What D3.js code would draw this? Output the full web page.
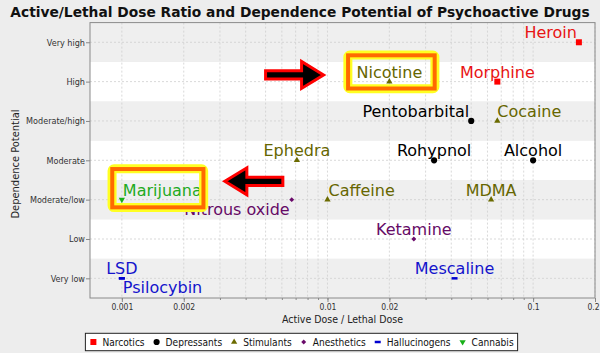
<!DOCTYPE html>
<html>
<head>
<meta charset="utf-8">
<script src="https://cdn.jsdelivr.net/npm/d3@7"></script>
<style>
  body { margin: 0; background: #ededed; }
  svg { display: block; }
</style>
</head>
<body>
<svg id="chart" width="600" height="353"></svg>
<script>
// Data
const dependenceLevels = ["Very low", "Low", "Moderate/low", "Moderate", "Moderate/high", "High", "Very high"];
const drugClasses = ["Narcotics", "Depressants", "Stimulants", "Anesthetics", "Hallucinogens", "Cannabis"];
const drugNames = ["Heroin", "Morphine", "Nicotine", "Pentobarbital", "Cocaine", "Rohypnol", "Alcohol", "Ephedra",
  "Marijuana", "Nitrous oxide", "Caffeine", "MDMA", "Ketamine", "LSD", "Psilocybin", "Mescaline"];
const drugClassOf = ["Narcotics", "Narcotics", "Stimulants", "Depressants", "Stimulants", "Depressants", "Depressants", "Stimulants",
  "Cannabis", "Anesthetics", "Stimulants", "Stimulants", "Anesthetics", "Hallucinogens", "Hallucinogens", "Hallucinogens"];
const doseRatio = [0.167, 0.067, 0.02, 0.05, 0.067, 0.033, 0.1, 0.0071,
  0.001, 0.0067, 0.01, 0.0625, 0.0263, 0.001, 0.001, 0.0415];
const dependenceOf = ["Very high", "High", "High", "Moderate/high", "Moderate/high", "Moderate", "Moderate", "Moderate",
  "Moderate/low", "Moderate/low", "Moderate/low", "Moderate/low", "Low", "Very low", "Very low", "Very low"];
const xTickValues = [0.001, 0.002, 0.01, 0.02, 0.1, 0.2];
const xTickLabels = ["0.001", "0.002", "0.01", "0.02", "0.1", "0.2"];

const drugs = drugNames.map((name, i) => ({
  name, group: drugClassOf[i], ratio: doseRatio[i], level: dependenceOf[i]
}));

// Styles
const width = 600, height = 353;
const plot = { left: 90, right: 595, top: 22.6, bottom: 298 };
const classColor = {
  Narcotics: "#ff0000", Depressants: "#000000", Stimulants: "#6b6b00",
  Anesthetics: "#6a0a6a", Hallucinogens: "#0000d0", Cannabis: "#18b018"
};
const labelColor = {
  Narcotics: "#e81414", Depressants: "#000000", Stimulants: "#666600",
  Anesthetics: "#660a66", Hallucinogens: "#1414cc", Cannabis: "#22aa22"
};
// anchor, dx, dy relative to the point
const labelPlace = {
  "Heroin": ["end", -2, -4],
  "Pentobarbital": ["end", -2, -4],
  "Nitrous oxide": ["end", -2, 15],
  "Cocaine": ["start", 0, -4],
  "Caffeine": ["start", 1, -4],
  "Marijuana": ["start", 1, -4],
  "Psilocybin": ["start", 1, 15]
};
const condensed = "'DejaVu Sans Condensed', 'DejaVu Sans', sans-serif";

const svg = d3.select("#chart");

svg.append("rect").attr("width", width).attr("height", height).attr("fill", "#ededed");

// Scales
const x = d3.scaleLog().domain([0.0007, 0.2]).range([plot.left, plot.right]);
const y = d3.scalePoint().domain(dependenceLevels).range([plot.bottom, plot.top]).padding(0.5);
const step = y.step();

// Bands
svg.append("g")
  .selectAll("rect")
  .data(dependenceLevels)
  .join("rect")
  .attr("x", plot.left)
  .attr("width", plot.right - plot.left)
  .attr("y", d => y(d) - step / 2)
  .attr("height", step)
  .attr("fill", (d, i) => i % 2 === 0 ? "#efefef" : "#ffffff");

// Grid lines
const minorTicks = x.ticks().filter(v => v >= 0.00099 && v <= 0.2001);
svg.append("g")
  .selectAll("line")
  .data(minorTicks)
  .join("line")
  .attr("x1", d => x(d)).attr("x2", d => x(d))
  .attr("y1", plot.top).attr("y2", plot.bottom)
  .attr("stroke", "#cfcfcf")
  .attr("stroke-width", 0.8)
  .attr("stroke-dasharray", "2,2");

svg.append("g")
  .selectAll("line")
  .data(dependenceLevels)
  .join("line")
  .attr("x1", plot.left).attr("x2", plot.right)
  .attr("y1", d => y(d)).attr("y2", d => y(d))
  .attr("stroke", "#cfcfcf")
  .attr("stroke-width", 0.8)
  .attr("stroke-dasharray", "2,2");

// Plot border
svg.append("rect")
  .attr("x", plot.left).attr("y", plot.top)
  .attr("width", plot.right - plot.left).attr("height", plot.bottom - plot.top)
  .attr("fill", "none")
  .attr("stroke", "#8a8a8a");

// Axes
const yAxis = svg.append("g")
  .attr("transform", `translate(${plot.left},0)`)
  .call(d3.axisLeft(y).tickSize(4).tickPadding(1));
yAxis.select(".domain").remove();
yAxis.selectAll("line").attr("stroke", "#888");
yAxis.selectAll("text").attr("font-family", condensed).attr("font-size", 9).attr("fill", "#333");

const xMinor = svg.append("g")
  .attr("transform", `translate(0,${plot.bottom})`)
  .call(d3.axisBottom(x).tickValues(minorTicks).tickSize(2).tickFormat(""));
xMinor.select(".domain").remove();
xMinor.selectAll("line").attr("stroke", "#888");

const xAxis = svg.append("g")
  .attr("transform", `translate(0,${plot.bottom})`)
  .call(d3.axisBottom(x).tickValues(xTickValues).tickSize(4).tickPadding(2)
    .tickFormat((d, i) => xTickLabels[i]));
xAxis.select(".domain").remove();
xAxis.selectAll("line").attr("stroke", "#888");
xAxis.selectAll("text").attr("font-family", condensed).attr("font-size", 8.5).attr("fill", "#333");
// keep the last label inside the picture
xAxis.selectAll("text").filter((d, i) => i === xTickValues.length - 1).attr("dx", -2);

// Axis titles
svg.append("text")
  .attr("x", (plot.left + plot.right) / 2).attr("y", 322.7)
  .attr("text-anchor", "middle")
  .attr("font-family", condensed).attr("font-size", 10.5).attr("fill", "#222")
  .text("Active Dose / Lethal Dose");

svg.append("text")
  .attr("transform", "translate(19,164) rotate(-90)")
  .attr("text-anchor", "middle")
  .attr("font-family", condensed).attr("font-size", 11).attr("fill", "#222")
  .text("Dependence Potential");

// Title
svg.append("text")
  .attr("x", 300).attr("y", 17)
  .attr("text-anchor", "middle")
  .attr("font-family", "'DejaVu Sans', sans-serif").attr("font-weight", "bold").attr("font-size", 13.8)
  .attr("fill", "#111")
  .text("Active/Lethal Dose Ratio and Dependence Potential of Psychoactive Drugs");

// Markers
function drawMarker(g, group, cx, cy) {
  const color = classColor[group];
  if (group === "Hallucinogens") {
    g.append("rect").attr("x", cx - 3).attr("y", cy - 1.25).attr("width", 6).attr("height", 2.5).attr("fill", color);
    return;
  }
  let type = d3.symbolSquare, size = 36, rot = 0;
  if (group === "Depressants") { type = d3.symbolCircle; size = 30; }
  if (group === "Stimulants") { type = d3.symbolTriangle; size = 17; }
  if (group === "Anesthetics") { type = d3.symbolSquare; size = 12; rot = 45; }
  if (group === "Cannabis") { type = d3.symbolTriangle; size = 17; rot = 180; }
  g.append("path")
    .attr("d", d3.symbol().type(type).size(size)())
    .attr("transform", `translate(${cx},${cy}) rotate(${rot})`)
    .attr("fill", color);
}

// Labels
svg.append("g")
  .selectAll("text")
  .data(drugs)
  .join("text")
  .attr("x", d => x(d.ratio) + (labelPlace[d.name] || ["middle", 0, -4])[1])
  .attr("y", d => y(d.level) + (labelPlace[d.name] || ["middle", 0, -4])[2])
  .attr("text-anchor", d => (labelPlace[d.name] || ["middle"])[0])
  .attr("font-family", "'DejaVu Sans', sans-serif")
  .attr("font-size", 16)
  .attr("fill", d => labelColor[d.group])
  .text(d => d.name);

const markers = svg.append("g");
drugs.forEach(d => drawMarker(markers, d.group, x(d.ratio), y(d.level)));

// Highlight boxes and arrows
const highlightBoxes = [
  { name: "Nicotine", x0: -46, x1: 50, y0: -31, y1: 11.6 },
  { name: "Marijuana", x0: -14.3, x1: 86.3, y0: -35.3, y1: 12.4 }
];
const arrows = [
  { name: "Nicotine", dx: -65.8, dy: -6.7, dir: 1 },
  { name: "Marijuana", dx: 103, dy: -18.3, dir: -1 }
];

const ann = svg.append("g");
highlightBoxes.forEach(b => {
  const d = drugs.find(e => e.name === b.name);
  const px = x(d.ratio), py = y(d.level);
  const bx = px + b.x0, by = py + b.y0, bw = b.x1 - b.x0, bh = b.y1 - b.y0;
  ann.append("rect")
    .attr("x", bx + 4.5).attr("y", by + 4.5)
    .attr("width", bw - 9).attr("height", bh - 9)
    .attr("rx", 2)
    .attr("fill", "none").attr("stroke", "#ffff22").attr("stroke-width", 9);
  ann.append("rect")
    .attr("x", bx + 4.7).attr("y", by + 4.7)
    .attr("width", bw - 9.4).attr("height", bh - 9.4)
    .attr("fill", "none").attr("stroke", "#ff6a00").attr("stroke-width", 4);
});

arrows.forEach(a => {
  const d = drugs.find(e => e.name === a.name);
  const tx = x(d.ratio) + a.dx, ty = y(d.level) + a.dy;
  const len = 58, head = 22, hh = 13.5, sh = 4.2, s = a.dir;
  const pts = [
    [0, 0], [-head, -hh], [-head, -sh], [-len, -sh],
    [-len, sh], [-head, sh], [-head, hh]
  ].map(p => [tx + s * p[0], ty + p[1]]);
  ann.append("path")
    .attr("d", d3.line()(pts) + "Z")
    .attr("fill", "#000")
    .attr("stroke", "#ff0000")
    .attr("stroke-width", 3)
    .attr("stroke-linejoin", "miter");
});

// Legend
const legend = svg.append("g");
const legendItems = legend.append("g");
let cx = 0, lastEnd = 0;
drugClasses.forEach(c => {
  const g = legendItems.append("g");
  drawMarker(g, c, cx, 0);
  const t = g.append("text")
    .attr("x", cx + 9).attr("y", 3.5)
    .attr("font-family", condensed).attr("font-size", 10.1).attr("fill", "#111")
    .text(c);
  lastEnd = cx + 9 + t.node().getComputedTextLength();
  cx = lastEnd + 12;
});
const boxLeft = -8, boxRight = lastEnd + 4;
legend.insert("rect", ":first-child")
  .attr("x", boxLeft).attr("y", -8.7)
  .attr("width", boxRight - boxLeft).attr("height", 17.4)
  .attr("fill", "#fff").attr("stroke", "#222");
const legendShift = 301.5 - (boxLeft + boxRight) / 2;
legend.attr("transform", `translate(${legendShift},342)`);
</script>
</body>
</html>
